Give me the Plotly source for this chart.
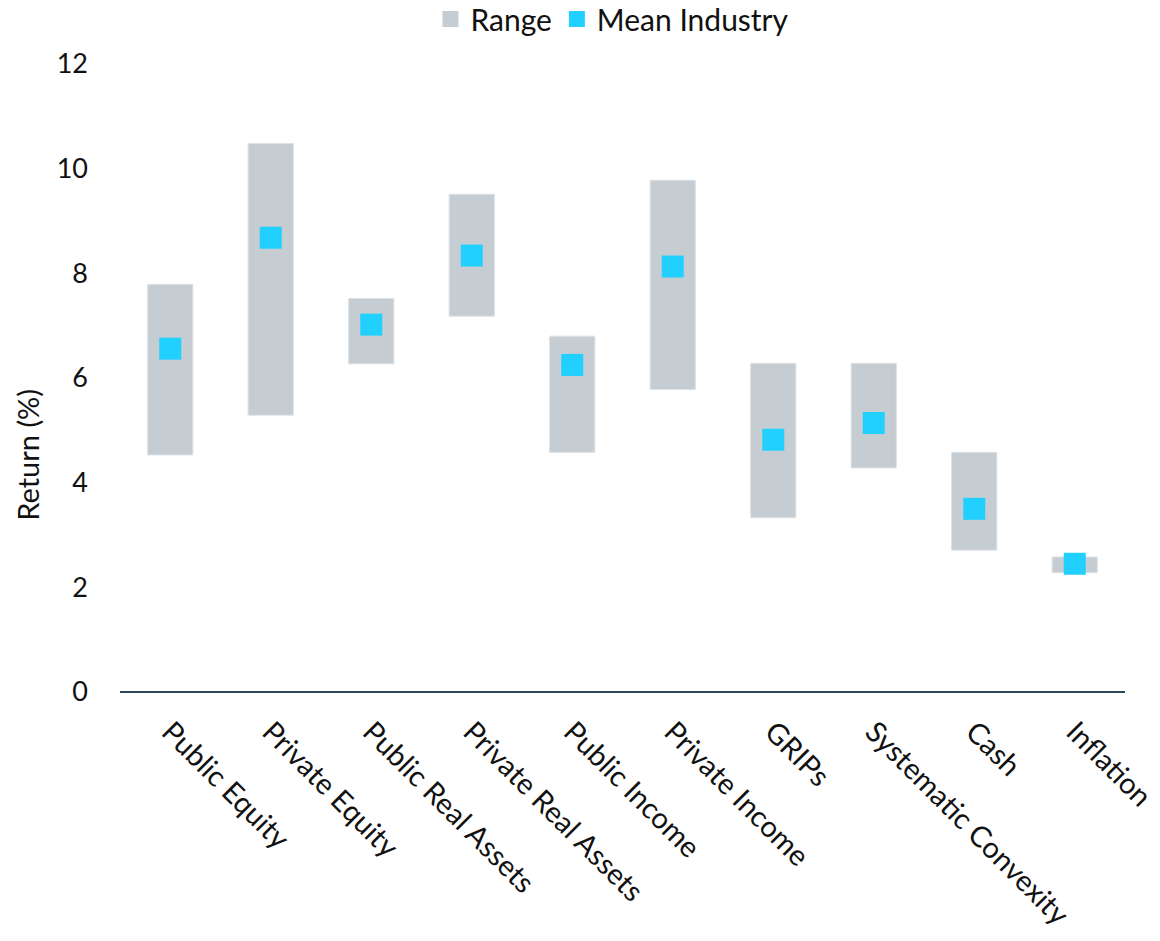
import plotly.graph_objects as go

categories = ["Public Equity", "Private Equity", "Public Real Assets", "Private Real Assets",
              "Public Income", "Private Income", "GRIPs", "Systematic Convexity", "Cash", "Inflation"]
range_low = [4.53, 5.29, 6.27, 7.18, 4.58, 5.78, 3.33, 4.28, 2.71, 2.28]
range_high = [7.79, 10.48, 7.52, 9.51, 6.80, 9.78, 6.28, 6.28, 4.58, 2.58]
mean_industry = [6.56, 8.68, 7.02, 8.34, 6.25, 8.13, 4.82, 5.14, 3.50, 2.45]
y_ticks = [0, 2, 4, 6, 8, 10, 12]

FONT = "Lato, 'Noto Sans', sans-serif"
RANGE_COLOR = "#c5ccd2"
MEAN_COLOR = "#22d0ff"

fig = go.Figure()
fig.add_trace(go.Bar(
    x=categories,
    y=[h - l for h, l in zip(range_high, range_low)],
    base=range_low,
    name="Range",
    width=0.45,
    showlegend=False,
    marker=dict(color=RANGE_COLOR, line=dict(color="#dde2e6", width=1)),
))
# legend swatch for the range bars
fig.add_trace(go.Scatter(
    x=[None], y=[None], name="Range", mode="markers",
    marker=dict(symbol="square", size=18, color=RANGE_COLOR),
))
fig.add_trace(go.Scatter(
    x=categories,
    y=mean_industry,
    name="Mean Industry",
    mode="markers",
    marker=dict(symbol="square", size=22, color=MEAN_COLOR),
))

fig.update_layout(
    width=1160, height=941,
    margin=dict(l=120, r=35, t=64, b=249, autoexpand=False),
    plot_bgcolor="white", paper_bgcolor="white",
    font=dict(family=FONT, size=28, color="#111111"),
    showlegend=True,
    legend=dict(orientation="h", x=0.49, xanchor="center", y=1.0717, yanchor="middle",
                yref="paper", font=dict(size=30), tracegroupgap=0,
                itemwidth=30),
    xaxis=dict(
        range=[-0.5, len(categories) - 0.5],
        tickangle=45, showgrid=False, zeroline=False, showline=False,
        ticks="", tickfont=dict(size=29), ticklabelstandoff=16,
    ),
    yaxis=dict(
        range=[0, 12], tickvals=y_ticks, showgrid=False, zeroline=True,
        zerolinecolor="#2d4a56", zerolinewidth=2, showline=False, ticks="",
        tickfont=dict(size=27), ticklabelstandoff=31,
    ),
    annotations=[dict(
        text="Return (%)", textangle=-90, xref="paper", yref="paper",
        x=-0.092, y=0.377, xanchor="center", yanchor="middle", showarrow=False,
        font=dict(size=29, family=FONT),
    )],
)

fig.write_html("out.html")
